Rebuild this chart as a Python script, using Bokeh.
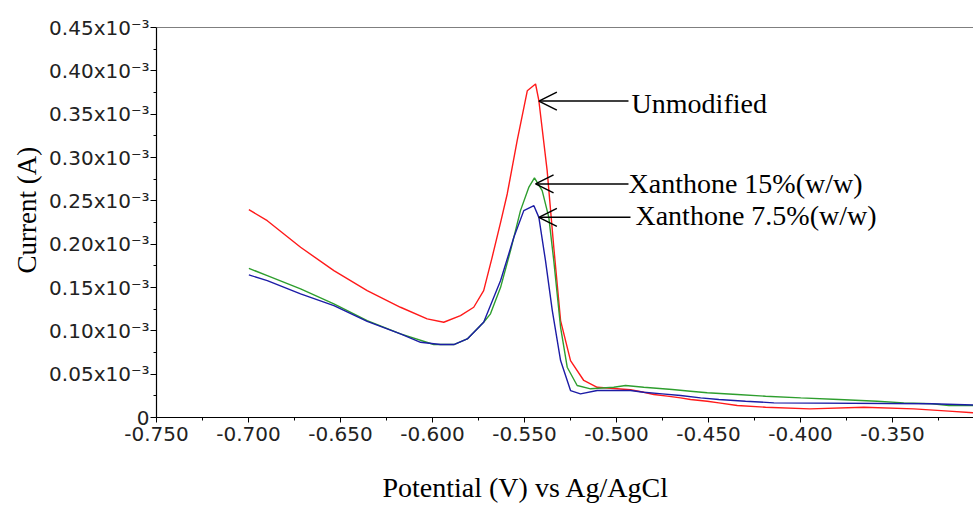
import math
from bokeh.plotting import figure
from bokeh.models import (Range1d, FixedTicker, NumeralTickFormatter, CustomJSTickFormatter,
                          Span, Label, Arrow, OpenHead, Title)
from bokeh.embed import file_html
from bokeh.resources import INLINE

# ---- data (potential in V, current in units of 1e-3 A) ----
red_x = [-0.6998, -0.6898, -0.6717, -0.6536, -0.6355, -0.6174, -0.6029, -0.5939, -0.5848, -0.5776,
         -0.5722, -0.5676, -0.5630, -0.5594, -0.5540, -0.5485, -0.5440, -0.5422, -0.5377, -0.5341,
         -0.5304, -0.5250, -0.5178, -0.5105, -0.4924, -0.4852, -0.4797, -0.4724, -0.4652, -0.4598,
         -0.4507, -0.4444, -0.4344, -0.4190, -0.3949, -0.3656, -0.3384, -0.3194, -0.3060]
red_y = [0.2398, 0.2271, 0.1964, 0.1695, 0.1464, 0.1272, 0.1138, 0.1099, 0.1176, 0.1272,
         0.1464, 0.1848, 0.2252, 0.2579, 0.3194, 0.3770, 0.3848, 0.3655, 0.2848, 0.1964,
         0.1118, 0.0657, 0.0427, 0.0349, 0.0320, 0.0292, 0.0265, 0.0246, 0.0227, 0.0208,
         0.0188, 0.0169, 0.0138, 0.0119, 0.0100, 0.0119, 0.0100, 0.0073, 0.0054]

green_x = [-0.6998, -0.6898, -0.6717, -0.6536, -0.6355, -0.6174, -0.5993, -0.5884, -0.5811, -0.5722,
           -0.5685, -0.5630, -0.5576, -0.5522, -0.5477, -0.5446, -0.5404, -0.5368, -0.5341, -0.5304,
           -0.5268, -0.5214, -0.5141, -0.5015, -0.4951, -0.4852, -0.4697, -0.4598, -0.4507, -0.4344,
           -0.4190, -0.3999, -0.3792, -0.3583, -0.3439, -0.3284, -0.3194, -0.3060]
green_y = [0.1721, 0.1637, 0.1484, 0.1311, 0.1118, 0.0965, 0.0842, 0.0842, 0.0907, 0.1099,
           0.1196, 0.1502, 0.1926, 0.2387, 0.2655, 0.2764, 0.2617, 0.2309, 0.1810, 0.1041,
           0.0580, 0.0369, 0.0331, 0.0349, 0.0369, 0.0349, 0.0323, 0.0303, 0.0285, 0.0265,
           0.0246, 0.0227, 0.0208, 0.0188, 0.0169, 0.0158, 0.0138, 0.0138]

blue_x = [-0.6998, -0.6898, -0.6717, -0.6536, -0.6355, -0.6174, -0.6065, -0.5957, -0.5884, -0.5811,
          -0.5722, -0.5630, -0.5558, -0.5504, -0.5449, -0.5422, -0.5386, -0.5349, -0.5304, -0.5250,
          -0.5196, -0.5105, -0.4924, -0.4852, -0.4752, -0.4652, -0.4543, -0.4444, -0.4299, -0.4145,
          -0.3293, -0.3060]
blue_y = [0.1645, 0.1580, 0.1426, 0.1291, 0.1110, 0.0965, 0.0868, 0.0842, 0.0842, 0.0907,
          0.1099, 0.1580, 0.2079, 0.2387, 0.2444, 0.2309, 0.1810, 0.1234, 0.0657, 0.0311,
          0.0273, 0.0311, 0.0311, 0.0292, 0.0273, 0.0254, 0.0227, 0.0208, 0.0188, 0.0169,
          0.0158, 0.0144]

x_ticks = [-0.750, -0.700, -0.650, -0.600, -0.550, -0.500, -0.450, -0.400, -0.350]
x_minor = [-0.725, -0.675, -0.625, -0.575, -0.525, -0.475, -0.425, -0.375, -0.325]
y_ticks_mA = [0, 0.05, 0.10, 0.15, 0.20, 0.25, 0.30, 0.35, 0.40, 0.45]
y_minor_mA = [0.025, 0.075, 0.125, 0.175, 0.225, 0.275, 0.325, 0.375, 0.425]

labels = ["Unmodified", "Xanthone 15%(w/w)", "Xanthone 7.5%(w/w)"]
x_title = "Potential (V) vs Ag/AgCl"
y_title = "Current (A)"

S = 1e-3
to_A = lambda vals: [round(v * S, 12) for v in vals]

p = figure(width=973, height=506, output_backend="svg", toolbar_location=None,
           x_range=Range1d(-0.750, -0.3060), y_range=Range1d(0, 0.45e-3),
           min_border_left=156, min_border_right=0, min_border_top=27, min_border_bottom=89)
p.outline_line_color = None
p.grid.visible = False
p.background_fill_color = "white"
p.border_fill_color = "white"

p.line(red_x, to_A(red_y), line_color="#ff1a1a", line_width=1.4)
p.line(green_x, to_A(green_y), line_color="#2e9e2e", line_width=1.4)
p.line(blue_x, to_A(blue_y), line_color="#1c1ca6", line_width=1.4)

tick_font = "DejaVu Sans"
xa = p.xaxis[0]
xa.ticker = FixedTicker(ticks=x_ticks, minor_ticks=x_minor)
xa.formatter = NumeralTickFormatter(format="0.000")
xa.major_label_text_font = tick_font
xa.major_label_text_font_size = "20px"
xa.major_label_text_color = "#222222"
xa.major_tick_out = 5
xa.major_tick_in = 0
xa.minor_tick_out = 3
xa.minor_tick_in = 0
xa.major_label_standoff = 4
xa.axis_line_color = "black"
xa.axis_line_width = 1.2
xa.axis_label = " "
xa.axis_label_text_font_size = "1px"
xa.axis_label_standoff = 20

ya = p.yaxis[0]
ya.ticker = FixedTicker(ticks=to_A(y_ticks_mA), minor_ticks=to_A(y_minor_mA))
ya.formatter = CustomJSTickFormatter(code="""
    if (Math.abs(tick) < 1e-12) { return '0'; }
    return (tick * 1000).toFixed(2) + 'x10\u207b\u00b3';
""")
ya.major_label_text_font = tick_font
ya.major_label_text_font_size = "20px"
ya.major_label_text_color = "#222222"
ya.major_tick_out = 6
ya.major_tick_in = 0
ya.minor_tick_out = 3
ya.minor_tick_in = 0
ya.major_label_standoff = 1
ya.axis_line_color = "black"
ya.axis_line_width = 1.2

p.add_layout(Span(location=0.45e-3, dimension="width", line_color="black", line_width=1.2))

serif = "Liberation Serif"
p.add_layout(Title(text=x_title, text_font=serif, text_font_size="28px", text_font_style="normal",
                   align="left", offset=226, standoff=4, text_color="black"), "below")
p.add_layout(Title(text=y_title, text_font=serif, text_font_size="27px", text_font_style="normal",
                   align="left", offset=144, standoff=10, text_color="black"), "left")

# annotations
ann = [
    (labels[0], -0.4918, 0.3620e-3, -0.4935, -0.5422, 0.3651e-3),
    (labels[1], -0.4935, 0.2698e-3, -0.4935, -0.5440, 0.2695e-3),
    (labels[2], -0.4897, 0.2329e-3, -0.4924, -0.5422, 0.2310e-3),
]
for txt, tx, ty, xs, xe, ay in ann:
    p.add_layout(Arrow(x_start=xs, y_start=ay, x_end=xe, y_end=ay, line_color="black", line_width=1.5,
                       end=OpenHead(size=18, line_color="black", line_width=1.5)))
    p.add_layout(Label(x=tx, y=ty, text=txt, text_font=serif, text_font_size="28px",
                       text_align="left", text_baseline="middle", text_color="black"))

open("out.html", "w").write(file_html(p, INLINE))
